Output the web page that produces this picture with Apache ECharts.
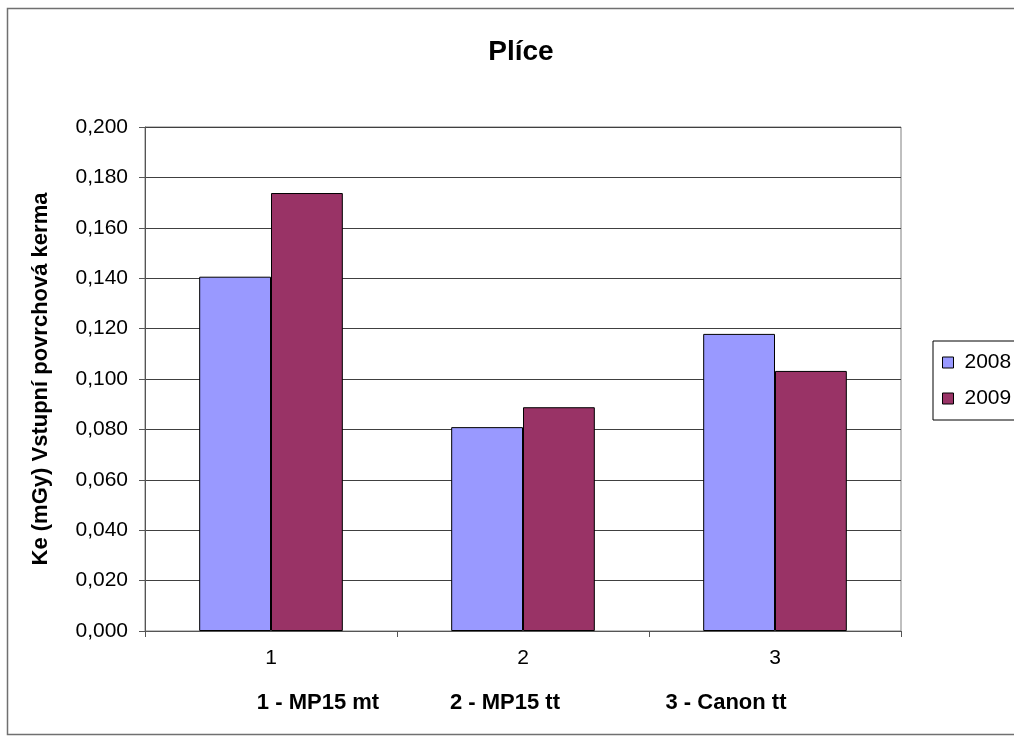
<!DOCTYPE html>
<html>
<head>
<meta charset="utf-8">
<script src="https://cdn.jsdelivr.net/npm/echarts@6/dist/echarts.min.js"></script>
<style>
  html, body { margin: 0; padding: 0; background: #fff; }
  #chart { width: 1014px; height: 742px; }
</style>
</head>
<body>
<div id="chart"></div>
<script>
// Entrance surface kerma for lung examinations, per device and year
const categories = ['1', '2', '3'];
const deviceNames = ['1 - MP15 mt', '2 - MP15 tt', '3 - Canon tt'];
const seriesNames = ['2008', '2009'];
const values2008 = [0.1406, 0.0809, 0.1179];
const values2009 = [0.1738, 0.0888, 0.1032];
const deviceNameX = [318, 505, 726];

const FONT = '"Liberation Sans", Arial, sans-serif';
const fmt = v => v.toFixed(3).replace('.', ',');

const chart = echarts.init(document.getElementById('chart'), null, { renderer: 'canvas' });

chart.setOption({
  animation: false,
  backgroundColor: '#fff',
  textStyle: { fontFamily: FONT, color: '#000' },
  title: {
    text: 'Plíce',
    left: 516,
    textAlign: 'center',
    top: 33,
    textStyle: { fontFamily: FONT, fontSize: 28, fontWeight: 'bold', color: '#000' }
  },
  legend: {
    orient: 'vertical',
    left: 933,
    top: 341,
    data: seriesNames,
    backgroundColor: '#fff',
    borderColor: '#000',
    borderWidth: 1,
    borderRadius: 0,
    padding: [11, 30, 11, 9],
    itemGap: 15,
    itemWidth: 11,
    itemHeight: 11,
    icon: 'rect',
    itemStyle: { borderColor: '#000', borderWidth: 1 },
    textStyle: { fontFamily: FONT, fontSize: 21, color: '#000', padding: [0, 0, 0, 6] }
  },
  grid: {
    left: 145,
    right: 113,
    top: 127,
    bottom: 111,
    show: true,
    borderColor: '#808080',
    borderWidth: 1
  },
  xAxis: {
    type: 'category',
    data: categories,
    axisLine: { lineStyle: { color: '#555', width: 1 } },
    axisTick: { show: true, alignWithLabel: false, length: 6, lineStyle: { color: '#555' } },
    axisLabel: { fontFamily: FONT, fontSize: 21, color: '#000', margin: 17 }
  },
  yAxis: {
    type: 'value',
    min: 0,
    max: 0.2,
    interval: 0.02,
    name: 'Ke (mGy) Vstupní povrchová kerma',
    nameLocation: 'middle',
    nameGap: 93,
    nameTextStyle: { fontFamily: FONT, fontSize: 22, fontWeight: 'bold', color: '#000' },
    axisLine: { show: true, lineStyle: { color: '#555', width: 1 } },
    axisTick: { show: true, length: 6, lineStyle: { color: '#555' } },
    axisLabel: { fontFamily: FONT, fontSize: 21, color: '#000', margin: 17, formatter: fmt },
    splitLine: { show: true, lineStyle: { color: '#404040', width: 1 } }
  },
  series: [
    {
      name: seriesNames[0],
      type: 'bar',
      data: values2008,
      barGap: '0%',
      barCategoryGap: '43%',
      itemStyle: { color: '#9999FF', borderColor: '#000', borderWidth: 1 }
    },
    {
      name: seriesNames[1],
      type: 'bar',
      data: values2009,
      barGap: '0%',
      barCategoryGap: '43%',
      itemStyle: { color: '#993366', borderColor: '#000', borderWidth: 1 }
    }
  ],
  graphic: [
    {
      type: 'rect',
      silent: true,
      z: -1,
      shape: { x: 7.5, y: 8.5, width: 1020, height: 726 },
      style: { fill: 'none', stroke: '#707070', lineWidth: 1.5 }
    }
  ].concat(deviceNames.map((t, i) => ({
    type: 'text',
    silent: true,
    x: deviceNameX[i],
    y: 703,
    style: {
      text: t,
      fontFamily: FONT,
      fontSize: 22,
      fontWeight: 'bold',
      fill: '#000',
      align: 'center',
      verticalAlign: 'middle'
    }
  })))
});
</script>
</body>
</html>
